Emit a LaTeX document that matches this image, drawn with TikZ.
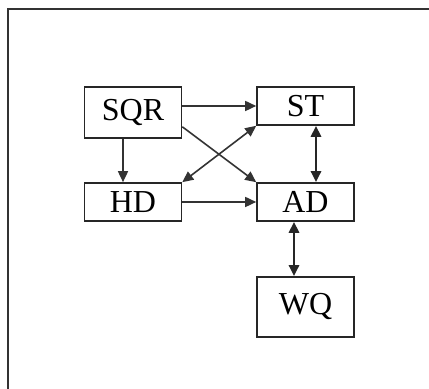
\documentclass[tikz,border=0pt]{standalone}
\usepackage{fontspec}
\setmainfont{Liberation Serif}
\usetikzlibrary{calc}
\usetikzlibrary{arrows.meta}
\usetikzlibrary{positioning}

\begin{document}
\begin{tikzpicture}[
        x=0.5pt, y=0.5pt,
        >={Triangle[length=5.5pt,width=5pt]},
        every node/.style={font=\fontsize{16}{18}\selectfont},
        box/.style={
            draw=black!85,
            line width=0.8pt,
            inner sep=0pt,
            minimum width=48.5pt,
            minimum height=19pt
        },
        link/.style={draw=black!80, line width=0.8pt},
        tie/.style={draw=black!85, line width=1.3pt}
    ]

    \useasboundingbox (0,0) rectangle (429,389);

    \draw[line width=0.8pt, black!80] (429,380) -- (8,380) -- (8,0);

    \node[box, minimum height=25.5pt] (SQR) at (133,276.5) {SQR};
    \node[box] (ST) at (305.5,283) {ST};
    \node[box] (HD) at (133,187) {HD};
    \node[box] (AD) at (305.5,187) {AD};
    \node[box, minimum height=30pt] (WQ) at (305.5,82) {WQ};

    \coordinate (SQRx) at ($(SQR.south east)+(0,12)$);
    \coordinate (SQRd) at ($(SQR.south)+(-10,0)$);
    \coordinate (STd)  at ($(ST.south)+(10.5,0)$);
    \coordinate (ADd)  at ($(AD.south)+(-11.5,0)$);

    \draw[link, ->] (SQR.east |- ST.west) -- (ST.west);
    \draw[link, ->] (SQRx) -- (AD.north west);
    \draw[link, <->] (ST.south west) -- (HD.north east);
    \draw[link, ->] (SQRd) -- (SQRd |- HD.north);
    \draw[link, ->] (HD.east) -- (AD.west);

    \draw[tie, <->] (STd) -- (STd |- AD.north);
    \draw[tie, <->] (ADd) -- (ADd |- WQ.north);

\end{tikzpicture}
\end{document}
